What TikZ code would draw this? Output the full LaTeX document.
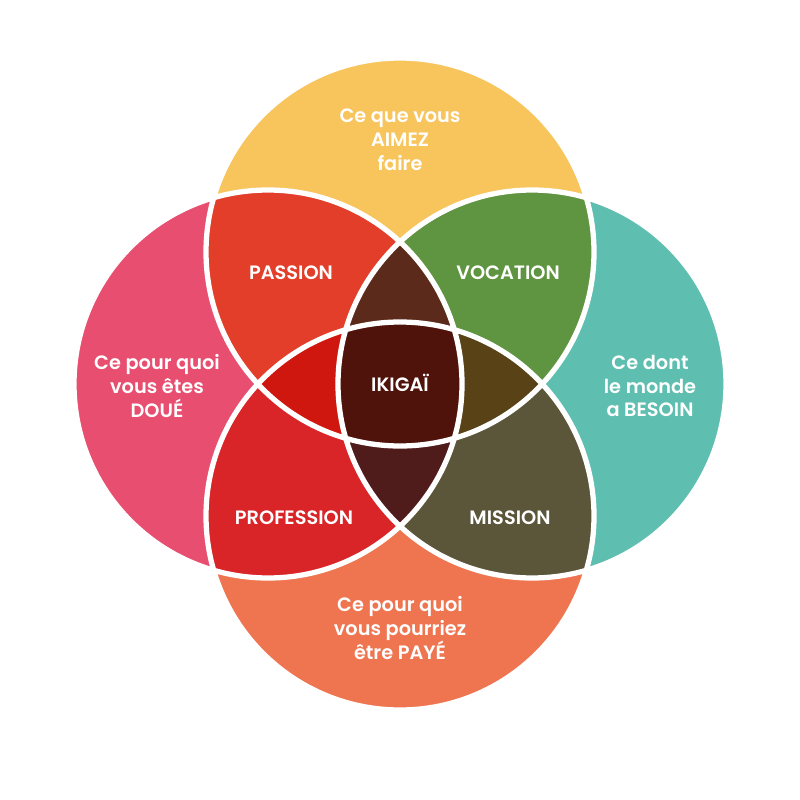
\documentclass[tikz,border=0pt]{standalone}
\usepackage{fontspec}
\setmainfont{Poppins}[BoldFont={Poppins SemiBold}]
\usetikzlibrary{positioning}
\definecolor{cAimez}{HTML}{F8C45C}
\definecolor{cDoue}{HTML}{E84E6F}
\definecolor{cBesoin}{HTML}{5EBEAF}
\definecolor{cPaye}{HTML}{EE754F}
\definecolor{cPassion}{HTML}{E23E2A}
\definecolor{cVocation}{HTML}{5F9441}
\definecolor{cProfession}{HTML}{D92428}
\definecolor{cMission}{HTML}{5B5539}
\definecolor{cLensT}{HTML}{5C2A1A}
\definecolor{cLensL}{HTML}{D0170F}
\definecolor{cLensR}{HTML}{5A4217}
\definecolor{cLensB}{HTML}{4F1B1B}
\definecolor{cIkigai}{HTML}{4F130B}

\begin{document}
\begin{tikzpicture}[
    x=0.02cm, y=-0.02cm,
    lbl/.style={text=white, align=center, inner sep=0pt,
      font=\bfseries\fontsize{11}{13.6}\selectfont},
    sep/.style={draw=white, line width=3pt}
  ]
    \useasboundingbox (0,0) rectangle (800,800);
    \def\rad{194}
    \def\cT{(400,252) circle (\rad)}
    \def\cB{(400,516) circle (\rad)}
    \def\cL{(268,384) circle (\rad)}
    \def\cR{(532,384) circle (\rad)}
    % the four circles
    \fill[cAimez] \cT;
    \fill[cDoue] \cL;
    \fill[cBesoin] \cR;
    \fill[cPaye] \cB;
    % two at a time
    \begin{scope}
      \clip \cT;
      \fill[cPassion] \cL;
      \fill[cVocation] \cR;
    \end{scope}
    \begin{scope}
      \clip \cB;
      \fill[cProfession] \cL;
      \fill[cMission] \cR;
    \end{scope}
    % three at a time
    \begin{scope}
      \clip \cL; \clip \cR;
      \fill[cLensT] \cT;
      \fill[cLensB] \cB;
    \end{scope}
    \begin{scope}
      \clip \cT; \clip \cB;
      \fill[cLensL] \cL;
      \fill[cLensR] \cR;
    \end{scope}
    % all four
    \begin{scope}
      \clip \cT; \clip \cB; \clip \cL;
      \fill[cIkigai] \cR;
    \end{scope}
    \draw[sep] \cT \cB \cL \cR;

    \node[lbl] (aimez) at (400,140) {Ce que vous\\AIMEZ\\faire};
    \node[lbl] (doue) at (157,386) {Ce pour quoi\\vous êtes\\DOUÉ};
    \node[lbl] (besoin) at (650,386) {Ce dont\\le monde\\a BESOIN};
    \node[lbl] (paye) at (400,628) {Ce pour quoi\\vous pourriez\\être PAYÉ};
    \node[lbl] (passion) at (291,273) {PASSION};
    \node[lbl] (vocation) at (508,273) {VOCATION};
    \node[lbl] (profession) at (294,518) {PROFESSION};
    \node[lbl] (mission) at (510,518) {MISSION};
    \node[lbl] (ikigai) at (400,383) {IKIGAÏ};
  \end{tikzpicture}
\end{document}
